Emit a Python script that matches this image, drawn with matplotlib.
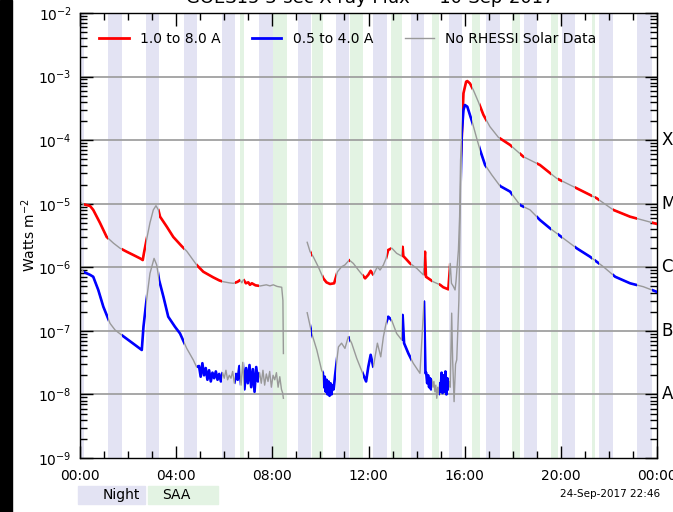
import numpy as np
import matplotlib
matplotlib.use("Agg")
import matplotlib.pyplot as plt
import matplotlib.ticker as ticker
import matplotlib.transforms as mtransforms
from matplotlib.lines import Line2D
from matplotlib.path import Path
from matplotlib.patches import Rectangle

# time in hours after 00:00 UT, flux in W m^-2
# 1.0 - 8.0 A channel, before and after the data gap
t_long_a = [0.0, 0.15, 0.42, 0.55, 0.83, 1.11, 1.39, 1.66, 1.94, 2.22, 2.50, 2.61,
            2.66, 2.75, 2.91, 3.05, 3.16, 3.26, 3.33, 3.61, 3.88, 4.23, 4.44, 4.85,
            5.13, 5.54, 5.80, 5.96, 6.20, 6.38, 6.55, 6.66, 6.73, 6.80, 6.90, 7.00,
            7.07, 7.15, 7.30, 7.49, 7.75, 7.90, 8.04, 8.20, 8.39, 8.44, 8.46]
f_long_a = [1.05e-5, 9.8e-6, 9.2e-6, 8.0e-6, 5.0e-6, 3.0e-6, 2.4e-6, 2.0e-6, 1.76e-6,
            1.56e-6, 1.38e-6, 1.30e-6, 1.68e-6, 2.5e-6, 5.0e-6, 8.0e-6, 9.3e-6, 8.0e-6,
            6.25e-6, 4.35e-6, 3.0e-6, 2.15e-6, 1.79e-6, 1.09e-6, 8.5e-7, 6.95e-7,
            6.2e-7, 5.93e-7, 5.7e-7, 5.6e-7, 5.9e-7, 6.3e-7, 5.7e-7, 6.4e-7, 5.6e-7,
            5.8e-7, 5.3e-7, 5.6e-7, 5.2e-7, 5.08e-7, 5.3e-7, 5.1e-7, 5.3e-7, 5.0e-7,
            4.85e-7, 3.0e-7, 4.4e-8]
t_long_b = [9.45, 9.57, 9.70, 9.91, 10.12, 10.25, 10.40, 10.57, 10.71, 10.88, 11.02,
            11.20, 11.37, 11.58, 11.86, 11.99, 12.09, 12.20, 12.37, 12.48, 12.62, 12.73,
            12.82, 12.97, 13.17, 13.38, 13.42, 13.45, 13.73, 14.01, 14.28, 14.35, 14.39,
            14.70, 14.98, 15.11, 15.32, 15.40, 15.45, 15.53, 15.60, 15.64, 15.74, 15.79,
            15.83, 15.88, 15.95, 16.06, 16.11, 16.22, 16.36, 16.57, 16.78, 17.05, 17.40,
            17.89, 18.44, 19.13, 19.83, 20.66, 21.49, 22.18, 22.88, 23.43, 23.92, 24.0]
f_long_b = [2.47e-6, 1.76e-6, 1.47e-6, 1.02e-6, 6.7e-7, 5.8e-7, 5.46e-7, 5.6e-7, 8.5e-7,
            1.02e-6, 1.09e-6, 1.30e-6, 1.15e-6, 9.05e-7, 6.7e-7, 7.6e-7, 8.8e-7, 7.6e-7,
            1.02e-6, 9.05e-7, 1.09e-6, 1.38e-6, 1.87e-6, 2.0e-6, 1.66e-6, 1.5e-6, 2.1e-6,
            1.5e-6, 1.15e-6, 9.6e-7, 7.6e-7, 1.76e-6, 7.1e-7, 5.9e-7, 5.3e-7, 4.85e-7,
            4.5e-7, 1.15e-6, 5.6e-7, 5.0e-7, 4.4e-7, 6.0e-7, 1.87e-6, 6.25e-6, 4.9e-5,
            1.13e-4, 5.46e-4, 8.3e-4, 8.5e-4, 7.8e-4, 6.15e-4, 4.0e-4, 2.5e-4, 1.63e-4,
            1.11e-4, 8.4e-5, 5.5e-5, 4.07e-5, 2.5e-5, 1.75e-5, 1.22e-5, 8.0e-6, 6.25e-6,
            5.5e-6, 4.9e-6, 4.8e-6]

# 0.5 - 4.0 A channel
t_short_a = [0.0, 0.14, 0.42, 0.55, 0.76, 0.97, 1.25, 1.46, 1.73, 2.01, 2.29, 2.57,
             2.64, 2.75, 2.91, 3.08, 3.19, 3.29, 3.47, 3.67, 3.95, 4.16, 4.44, 4.71,
             4.85, 4.95, 5.02, 5.09, 5.16, 5.23, 5.30, 5.37, 5.44, 5.51, 5.58, 5.65,
             5.72, 5.79, 5.86, 5.93, 6.00, 6.07, 6.14, 6.21, 6.28, 6.35, 6.42, 6.49,
             6.56, 6.63, 6.70, 6.77, 6.84, 6.91, 6.98, 7.05, 7.12, 7.19, 7.26, 7.33,
             7.40, 7.47, 7.54, 7.61, 7.68, 7.75, 7.82, 7.89, 7.96, 8.03, 8.10, 8.17,
             8.24, 8.31, 8.38, 8.43, 8.46]
f_short_a = [1.0e-6, 8.5e-7, 7.6e-7, 7.1e-7, 4.4e-7, 2.4e-7, 1.31e-7, 1.03e-7, 8.6e-8,
             7.2e-8, 6.0e-8, 5.0e-8, 1.16e-7, 2.7e-7, 8.0e-7, 1.38e-6, 1.09e-6, 6.3e-7,
             3.44e-7, 1.67e-7, 1.16e-7, 9.1e-8, 5.3e-8, 3.5e-8, 2.7e-8,
             2.8e-8, 1.9e-8, 3.1e-8, 2.0e-8, 2.6e-8, 1.7e-8, 2.4e-8, 1.6e-8, 2.2e-8,
             1.8e-8, 2.3e-8, 1.7e-8, 2.1e-8, 1.6e-8, 2.2e-8, 1.8e-8, 2.4e-8, 1.7e-8,
             2.0e-8, 1.8e-8, 2.3e-8, 1.5e-8, 2.1e-8, 1.7e-8, 2.8e-8, 1.4e-8, 3.2e-8,
             1.2e-8, 2.6e-8, 1.5e-8, 2.9e-8, 1.3e-8, 2.5e-8, 1.1e-8, 2.7e-8, 1.6e-8,
             2.2e-8, 1.5e-8, 2.4e-8, 1.4e-8, 2.1e-8, 1.6e-8, 2.3e-8, 1.3e-8, 2.0e-8,
             1.7e-8, 2.2e-8, 1.3e-8, 1.9e-8, 1.2e-8, 1.05e-8, 8.7e-9]
t_short_b = [9.45, 9.64, 9.85, 10.05, 10.10, 10.14, 10.18, 10.22, 10.26, 10.30, 10.34,
             10.38, 10.42, 10.46, 10.50, 10.55, 10.61, 10.75, 10.88, 11.02, 11.16, 11.30,
             11.51, 11.79, 11.90, 11.99, 12.09, 12.20, 12.37, 12.51, 12.62, 12.73, 12.82,
             12.96, 13.17, 13.38, 13.42, 13.48, 13.66, 13.86, 14.14, 14.31, 14.37, 14.40,
             14.44, 14.48, 14.52, 14.56, 14.60, 14.64, 14.68, 14.72, 14.76, 14.80, 14.84,
             14.88, 14.92, 14.96, 15.00, 15.04, 15.08, 15.12, 15.16, 15.20, 15.24, 15.28,
             15.32, 15.36, 15.40, 15.46, 15.50, 15.56, 15.62, 15.67, 15.76, 15.80, 15.83,
             15.88, 15.95, 16.01, 16.11, 16.22, 16.33, 16.50, 16.64, 16.85, 17.13, 17.47,
             17.89, 18.30, 18.72, 19.13, 19.55, 20.10, 20.66, 21.21, 21.77, 22.26, 22.88,
             23.43, 24.0]
f_short_b = [1.93e-7, 9.1e-8, 5.0e-8, 2.4e-8, 2.2e-8, 1.3e-8, 1.9e-8, 1.1e-8, 1.7e-8,
             1.0e-8, 1.6e-8, 9.5e-9, 1.5e-8, 1.0e-8, 1.4e-8, 1.2e-8, 2.0e-8, 5.6e-8,
             6.4e-8, 5.3e-8, 8.1e-8, 6.4e-8, 3.7e-8, 2.0e-8, 1.6e-8, 2.7e-8, 4.2e-8,
             2.7e-8, 6.4e-8, 3.9e-8, 8.1e-8, 1.31e-7, 1.67e-7, 1.48e-7, 9.1e-8, 7.2e-8,
             1.78e-7, 6.4e-8, 4.4e-8, 3.1e-8, 2.15e-8, 2.9e-7, 2.15e-8, 2.2e-8, 1.5e-8,
             2.0e-8, 1.3e-8, 1.8e-8, 1.2e-8, 1.7e-8, 1.3e-8, 1.6e-8, 1.1e-8, 1.4e-8,
             8.7e-9, 1.3e-8, 1.0e-8, 1.5e-8, 1.1e-8, 2.2e-8, 1.05e-8, 2.0e-8, 1.1e-8,
             2.3e-8, 1.0e-8, 1.8e-8, 1.2e-8, 1.6e-8, 1.3e-8, 1.9e-7, 3.5e-8, 7.7e-9,
             3.0e-8, 3.5e-8, 3.05e-7, 3.4e-6, 1.85e-5, 1.28e-4, 2.98e-4, 3.57e-4, 3.36e-4,
             2.48e-4, 1.84e-4, 1.07e-4, 7.0e-5, 4.06e-5, 2.83e-5, 1.9e-5, 1.55e-5,
             9.55e-6, 8.0e-6, 5.55e-6, 4.1e-6, 2.86e-6, 1.99e-6, 1.47e-6, 1.02e-6, 7.1e-7,
             5.6e-7, 4.95e-7, 4.1e-7]

# spacecraft night and South Atlantic Anomaly intervals (hours)
night_start = [0.0, 1.16, 2.75, 4.33, 5.91, 7.45, 9.07, 10.65, 12.19, 13.77, 15.33,
               16.89, 18.47, 20.05, 21.59, 23.17]
night_end = [0.17, 1.75, 3.29, 4.87, 6.45, 8.03, 9.61, 11.19, 12.77, 14.31, 15.89,
             17.47, 19.01, 20.59, 22.17, 23.79]
saa_start = [6.66, 8.03, 9.65, 11.23, 12.94, 14.64, 16.31, 17.97, 19.59, 21.30]
saa_end = [6.82, 8.61, 10.11, 11.77, 13.39, 14.95, 16.64, 18.30, 19.88, 21.42]

goes_classes = ["X", "M", "C", "B", "A"]
class_levels = [1e-4, 1e-5, 1e-6, 1e-7, 1e-8]

night_col = "#e3e3f3"
saa_col = "#e3f3e3"

fig = plt.figure(figsize=(6.73, 5.12), dpi=100)
fig.patches.append(Rectangle((0, 0), 12 / 673, 1, transform=fig.transFigure,
                             color="black", zorder=0))
ax = fig.add_axes([80 / 673, 1 - 458 / 512, 577 / 673, 445 / 512])

for s, e in zip(night_start, night_end):
    ax.axvspan(s, e, color=night_col, lw=0, zorder=0)
for s, e in zip(saa_start, saa_end):
    ax.axvspan(s, e, color=saa_col, lw=0, zorder=0)

for lev in [1e-3, 1e-4, 1e-5, 1e-6, 1e-7, 1e-8]:
    ax.axhline(lev, color="#a0a0a0", lw=1.3, zorder=1)

t_long = np.concatenate([t_long_a, [np.nan], t_long_b])
f_long = np.concatenate([f_long_a, [np.nan], f_long_b])
t_short = np.concatenate([t_short_a, [np.nan], t_short_b])
f_short = np.concatenate([f_short_a, [np.nan], f_short_b])

# clip region where RHESSI saw the Sun: outside night and SAA
gaps = sorted(zip(night_start + saa_start, night_end + saa_end))
merged = []
for s, e in gaps:
    if merged and s <= merged[-1][1] + 1e-6:
        merged[-1][1] = max(merged[-1][1], e)
    else:
        merged.append([s, e])
free = []
x0 = 0.0
for s, e in merged:
    if s > x0:
        free.append((x0, s))
    x0 = max(x0, e)
if x0 < 24:
    free.append((x0, 24.0))
rects = [Path([(a, -1), (b, -1), (b, 2), (a, 2), (a, -1)], closed=True) for a, b in free]
clip = Path.make_compound_path(*rects)
blend = mtransforms.blended_transform_factory(ax.transData, ax.transAxes)

ax.plot(t_long, f_long, color="#999999", lw=1.0, zorder=2)
ax.plot(t_short, f_short, color="#999999", lw=1.0, zorder=2)
l1, = ax.plot(t_long, f_long, color="#ff0000", lw=1.9, zorder=3)
l2, = ax.plot(t_short, f_short, color="#0000ff", lw=1.9, zorder=3)
for ln in (l1, l2):
    ln.set_clip_path(clip, blend)

ax.set_yscale("log")
ax.set_ylim(1e-9, 1e-2)
ax.set_xlim(0, 24)
ax.xaxis.set_major_locator(ticker.MultipleLocator(4))
ax.xaxis.set_minor_locator(ticker.MultipleLocator(1))
ax.xaxis.set_major_formatter(ticker.FuncFormatter(lambda v, p: f"{int(round(v)) % 24:02d}:00"))
ax.yaxis.set_major_locator(ticker.LogLocator(base=10, numticks=20))
ax.yaxis.set_minor_locator(ticker.LogLocator(base=10, subs=np.arange(2, 10), numticks=20))
ax.yaxis.set_minor_formatter(ticker.NullFormatter())
ax.tick_params(which="both", direction="in", top=True, right=True, labelsize=10,
               colors="black")
ax.tick_params(which="major", length=9, width=1)
ax.tick_params(which="minor", length=5, width=1)
ax.tick_params(axis="x", which="major", pad=8)
ax.tick_params(axis="y", which="major", pad=6)
for sp in ax.spines.values():
    sp.set_linewidth(1.0)

ax.set_ylabel("Watts m$^{-2}$", fontsize=10)
ax.yaxis.set_label_coords(-0.072, 0.5)

class_tr = mtransforms.blended_transform_factory(ax.transAxes, ax.transData)
for name, lev in zip(goes_classes, class_levels):
    ax.text(1.008, lev, name, transform=class_tr, fontsize=12, va="center", ha="left",
            clip_on=False)

handles = [Line2D([], [], color="#ff0000", lw=2),
           Line2D([], [], color="#0000ff", lw=2),
           Line2D([], [], color="#999999", lw=1)]
ax.legend(handles, ["1.0 to 8.0 A", "0.5 to 4.0 A", "No RHESSI Solar Data"],
          loc="upper left", bbox_to_anchor=(0.012, 0.985), ncol=3, frameon=False,
          fontsize=10, handlelength=2.1, handletextpad=0.8, columnspacing=2.3)

fig.text(370 / 673, 1 - 3 / 512, "GOES15 3-sec X-ray Flux  -  10-Sep-2017",
         ha="center", va="baseline", fontsize=13)

fig.patches.append(Rectangle((78 / 673, 1 - 504 / 512), 67 / 673, 18 / 512,
                             transform=fig.transFigure, color=night_col))
fig.patches.append(Rectangle((148 / 673, 1 - 504 / 512), 70 / 673, 18 / 512,
                             transform=fig.transFigure, color=saa_col))
fig.text(140 / 673, 1 - 495 / 512, "Night", ha="right", va="center", fontsize=10)
fig.text(176 / 673, 1 - 495 / 512, "SAA", ha="center", va="center", fontsize=10)
fig.text(560 / 673, 1 - 494 / 512, "24-Sep-2017 22:46", ha="left", va="center",
         fontsize=7.5)

fig.savefig("out.png", dpi=100)
